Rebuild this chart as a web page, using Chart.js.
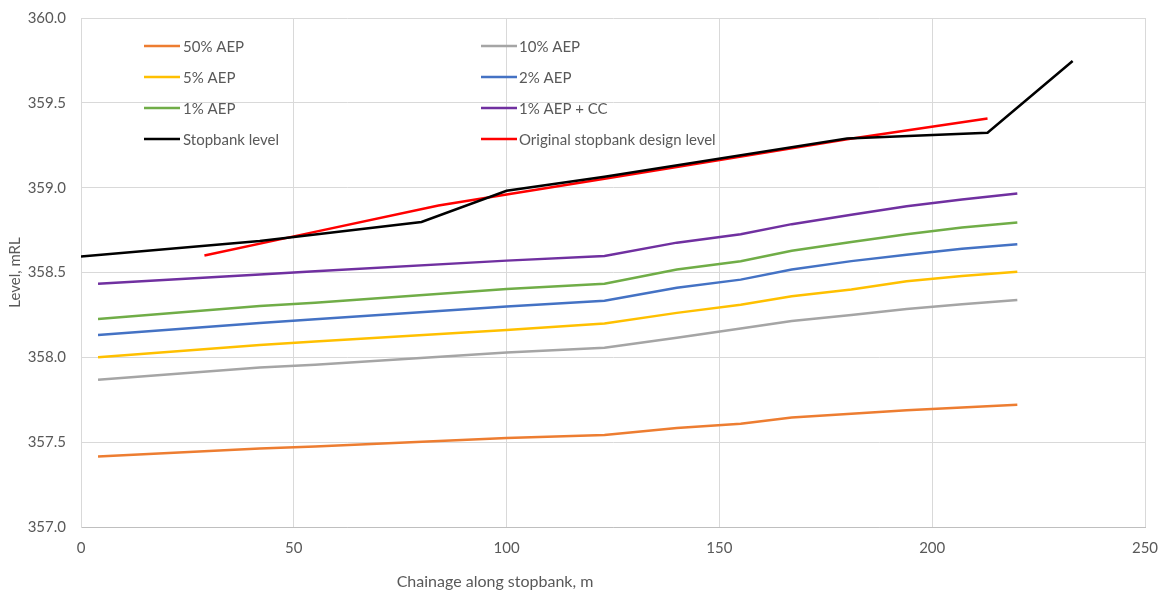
<!DOCTYPE html>
<html>
<head>
<meta charset="utf-8">
<script src="https://cdn.jsdelivr.net/npm/chart.js@4.4.1/dist/chart.umd.min.js"></script>
<style>
html,body{margin:0;padding:0;background:#fff;}
#wrap{width:1166px;height:594px;position:relative;}
</style>
</head>
<body>
<div id="wrap"><canvas id="c" width="1166" height="594"></canvas></div>
<script>
// Chainage (m) for the flood-level series
const aepChainage = [4, 42, 55, 100, 123, 140, 155, 167, 181, 194, 207, 220];
const aep50  = [357.415, 357.462, 357.474, 357.524, 357.542, 357.583, 357.609, 357.646, 357.668, 357.688, 357.705, 357.721];
const aep10  = [357.868, 357.940, 357.957, 358.028, 358.057, 358.116, 358.170, 358.214, 358.250, 358.285, 358.313, 358.338];
const aep5   = [358.000, 358.072, 358.093, 358.161, 358.199, 358.262, 358.310, 358.360, 358.400, 358.448, 358.480, 358.505];
const aep2   = [358.132, 358.203, 358.225, 358.300, 358.334, 358.410, 358.458, 358.518, 358.567, 358.605, 358.640, 358.666];
const aep1   = [358.226, 358.302, 358.322, 358.403, 358.434, 358.518, 358.566, 358.628, 358.680, 358.725, 358.765, 358.794];
const aep1cc = [358.434, 358.488, 358.508, 358.570, 358.597, 358.676, 358.725, 358.785, 358.840, 358.890, 358.930, 358.966];

const stopbankChainage = [0, 42, 80, 100, 123, 180, 213, 233];
const stopbankLevel    = [358.594, 358.686, 358.798, 358.982, 359.065, 359.290, 359.324, 359.747];

const designChainage = [29, 50, 84, 100, 123, 180, 213];
const designLevel    = [358.600, 358.713, 358.895, 358.960, 359.052, 359.285, 359.408];

const seriesLabels = ["50% AEP", "10% AEP", "5% AEP", "2% AEP", "1% AEP", "1% AEP + CC", "Stopbank level", "Original stopbank design level"];
const seriesColors = ["#ED7D31", "#A5A5A5", "#FFC000", "#4472C4", "#70AD47", "#7030A0", "#000000", "#FF0000"];

const yTicks = [357.0, 357.5, 358.0, 358.5, 359.0, 359.5, 360.0];
const xTicks = [0, 50, 100, 150, 200, 250];

const xTitle = "Chainage along stopbank, m";
const yTitle = "Level, mRL";

function pts(xs, ys){ return xs.map((x,i)=>({x:x, y:ys[i]})); }

const seriesData = [
  pts(aepChainage, aep50), pts(aepChainage, aep10), pts(aepChainage, aep5),
  pts(aepChainage, aep2), pts(aepChainage, aep1), pts(aepChainage, aep1cc),
  pts(stopbankChainage, stopbankLevel), pts(designChainage, designLevel)
];

const FONT = "Lato, 'Open Sans', sans-serif";
const TXT = "#595959";

const datasets = seriesData.map((d,i)=>({
  label: seriesLabels[i],
  data: d,
  borderColor: seriesColors[i],
  backgroundColor: seriesColors[i],
  borderWidth: 2.5,
  pointRadius: 0,
  showLine: true,
  tension: 0,
  fill: false
}));

const overlay = {
  id: 'overlay',
  afterDraw(chart){
    const ctx = chart.ctx;
    ctx.save();
    ctx.font = "15px " + FONT;
    ctx.fillStyle = TXT;
    ctx.textBaseline = "middle";
    const cols = [{lx:144, tx:183}, {lx:481, tx:519}];
    const rows = [46, 77, 108, 139];
    chart.data.datasets.forEach((ds,i)=>{
      const c = cols[i%2], r = rows[Math.floor(i/2)];
      ctx.strokeStyle = ds.borderColor;
      ctx.lineWidth = 2.5;
      ctx.beginPath();
      ctx.moveTo(c.lx, r); ctx.lineTo(c.lx+36, r);
      ctx.stroke();
      ctx.fillStyle = TXT;
      ctx.textAlign = "left";
      ctx.fillText(ds.label, c.tx, r+1);
    });
    ctx.font = "16px " + FONT;
    ctx.textAlign = "center";
    ctx.fillText(xTitle, 495, 582);
    ctx.restore();
  }
};

new Chart(document.getElementById('c'), {
  type: 'scatter',
  data: { datasets },
  options: {
    responsive: false,
    animation: false,
    events: [],
    layout: { padding: { left: 0, right: 21, top: 18, bottom: 0 } },
    plugins: { legend: { display: false }, tooltip: { enabled: false } },
    scales: {
      x: {
        type: 'linear', min: 0, max: 250,
        afterBuildTicks(scale){ scale.ticks = xTicks.map(v=>({value:v})); },
        afterFit(scale){ scale.height = 67; scale.paddingLeft = 0; scale.paddingRight = 0; },
        grid: { color: '#d9d9d9', lineWidth: 1, drawTicks: false },
        border: { color: '#bfbfbf', width: 1 },
        ticks: { color: TXT, font: { family: FONT, size: 15 }, padding: 12, maxRotation: 0 },
        title: { display: false }
      },
      y: {
        type: 'linear', min: 357, max: 360,
        afterBuildTicks(scale){ scale.ticks = yTicks.map(v=>({value:v})); },
        afterFit(scale){ scale.width = 81; scale.paddingTop = 0; scale.paddingBottom = 0; },
        grid: { color: '#d9d9d9', lineWidth: 1, drawTicks: false },
        border: { color: '#d9d9d9', width: 1 },
        ticks: { color: TXT, font: { family: FONT, size: 15 }, padding: 15, callback: v => Number(v).toFixed(1) },
        title: { display: true, text: yTitle, color: TXT, font: { family: FONT, size: 15 }, padding: { top: 6, bottom: 0 } }
      }
    }
  },
  plugins: [overlay]
});
</script>
</body>
</html>
